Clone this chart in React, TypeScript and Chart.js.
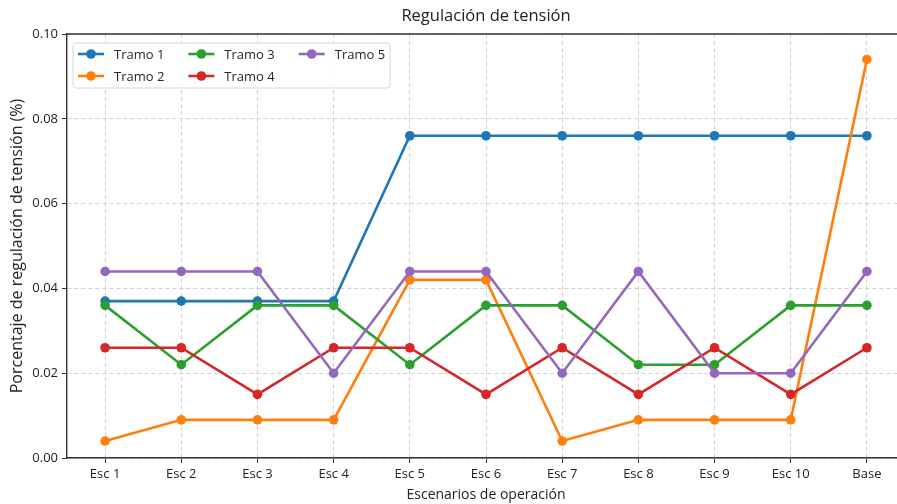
import { useEffect, useRef } from "react";
import { Chart, registerables, Plugin } from "chart.js";

Chart.register(...registerables);

const FONT = '"Open Sans", sans-serif';

const escenarios = ["Esc 1", "Esc 2", "Esc 3", "Esc 4", "Esc 5", "Esc 6", "Esc 7", "Esc 8", "Esc 9", "Esc 10", "Base"];

const tramo1 = [0.037, 0.037, 0.037, 0.037, 0.076, 0.076, 0.076, 0.076, 0.076, 0.076, 0.076];
const tramo2 = [0.004, 0.009, 0.009, 0.009, 0.042, 0.042, 0.004, 0.009, 0.009, 0.009, 0.094];
const tramo3 = [0.036, 0.022, 0.036, 0.036, 0.022, 0.036, 0.036, 0.022, 0.022, 0.036, 0.036];
const tramo4 = [0.026, 0.026, 0.015, 0.026, 0.026, 0.015, 0.026, 0.015, 0.026, 0.015, 0.026];
const tramo5 = [0.044, 0.044, 0.044, 0.02, 0.044, 0.044, 0.02, 0.044, 0.02, 0.02, 0.044];

const nombres = ["Tramo 1", "Tramo 2", "Tramo 3", "Tramo 4", "Tramo 5"];
const colores = ["#1f77b4", "#ff7f0e", "#2ca02c", "#d62728", "#9467bd"];

// matplotlib-style legend (3 columns, filled column by column) inside the plot
const legendPlugin: Plugin<"line"> = {
  id: "mplLegend",
  afterDatasetsDraw(chart) {
    const { ctx, chartArea } = chart;
    const items = chart.data.datasets.map((ds) => ({
      label: String(ds.label),
      color: String(ds.borderColor),
    }));
    const nCol = 3;
    const nRow = Math.ceil(items.length / nCol);
    const handle = 26;
    const textPad = 10;
    const colSpace = 24;
    const rowH = 22;
    const inner = 5;

    ctx.save();
    ctx.font = `13px ${FONT}`;
    const colWidths: number[] = [];
    for (let c = 0; c < nCol; c++) {
      let w = 0;
      for (let r = 0; r < nRow; r++) {
        const it = items[c * nRow + r];
        if (it) w = Math.max(w, ctx.measureText(it.label).width);
      }
      colWidths.push(w);
    }
    const boxX = chartArea.left + 6;
    const boxY = chartArea.top + 9;
    const boxW = colWidths.reduce((s, w) => s + handle + textPad + w, 0) + colSpace * (nCol - 1) + inner * 2;
    const boxH = 45;

    ctx.beginPath();
    ctx.roundRect(boxX, boxY, boxW, boxH, 3);
    ctx.fillStyle = "rgba(255,255,255,0.8)";
    ctx.fill();
    ctx.strokeStyle = "#d6d6d6";
    ctx.lineWidth = 1;
    ctx.stroke();

    let x = boxX + inner;
    for (let c = 0; c < nCol; c++) {
      for (let r = 0; r < nRow; r++) {
        const it = items[c * nRow + r];
        if (!it) continue;
        const y = boxY + 11 + r * rowH;
        ctx.strokeStyle = it.color;
        ctx.lineWidth = 2.6;
        ctx.beginPath();
        ctx.moveTo(x, y);
        ctx.lineTo(x + handle, y);
        ctx.stroke();
        ctx.fillStyle = it.color;
        ctx.beginPath();
        ctx.arc(x + handle / 2, y, 4.8, 0, Math.PI * 2);
        ctx.fill();
        ctx.fillStyle = "#262626";
        ctx.textBaseline = "middle";
        ctx.textAlign = "left";
        ctx.fillText(it.label, x + handle + textPad, y + 1);
      }
      x += handle + textPad + colWidths[c] + colSpace;
    }
    ctx.restore();
  },
};

// top and right spines
const framePlugin: Plugin<"line"> = {
  id: "frame",
  afterDraw(chart) {
    const { ctx, chartArea } = chart;
    ctx.save();
    ctx.strokeStyle = "#333";
    ctx.lineWidth = 1.4;
    ctx.beginPath();
    ctx.moveTo(chartArea.left, chartArea.top);
    ctx.lineTo(chartArea.right, chartArea.top);
    ctx.lineTo(chartArea.right, chartArea.bottom);
    ctx.stroke();
    ctx.restore();
  },
};

export default function App() {
  const canvasRef = useRef<HTMLCanvasElement>(null);

  useEffect(() => {
    if (!canvasRef.current) return;
    const series = [tramo1, tramo2, tramo3, tramo4, tramo5];
    const chart = new Chart(canvasRef.current, {
      type: "line",
      data: {
        labels: escenarios,
        datasets: series.map((data, i) => ({
          label: nombres[i],
          data,
          borderColor: colores[i],
          backgroundColor: colores[i],
          borderWidth: 2.6,
          pointRadius: 4.8,
          pointHoverRadius: 4.8,
          pointBorderWidth: 0,
          tension: 0,
          order: series.length - i,
        })),
      },
      options: {
        responsive: false,
        animation: false,
        layout: { padding: { left: 0, right: 15, top: 0, bottom: 0 } },
        plugins: {
          legend: { display: false },
          tooltip: { enabled: false },
          title: {
            display: true,
            text: "Regulación de tensión",
            fullSize: false,
            color: "#222",
            font: { family: FONT, size: 16.5, weight: "normal" },
            padding: { top: 6, bottom: 8.2 },
          },
        },
        scales: {
          x: {
            type: "category",
            offset: true,
            grid: {
              offset: false,
              color: "#d0d0d0",
              lineWidth: 1,
              tickLength: 5,
              tickColor: "#333",
              tickWidth: 1,
            },
            border: { color: "#333", width: 1.4, dash: [4, 3] },
            ticks: {
              color: "#222",
              padding: 3,
              maxRotation: 0,
              autoSkip: false,
              font: { family: FONT, size: 13 },
            },
            title: {
              display: true,
              text: "Escenarios de operación",
              color: "#222",
              font: { family: FONT, size: 14 },
              padding: { top: 0, bottom: 1 },
            },
            afterFit(scale) {
              scale.height = 46;
            },
          },
          y: {
            min: 0,
            max: 0.1,
            grid: {
              color: "#d0d0d0",
              lineWidth: 1,
              tickLength: 5,
              tickColor: "#333",
              tickWidth: 1,
            },
            border: { color: "#333", width: 1.4, dash: [4, 3] },
            ticks: {
              stepSize: 0.02,
              color: "#222",
              padding: 4,
              font: { family: FONT, size: 13 },
              callback: (v) => Number(v).toFixed(2),
            },
            title: {
              display: true,
              text: "Porcentaje de regulación de tensión (%)",
              color: "#222",
              font: { family: FONT, size: 16 },
              padding: { top: 8, bottom: 0 },
            },
            afterFit(scale) {
              scale.width = 67;
            },
          },
        },
      },
      plugins: [legendPlugin, framePlugin],
    });
    return () => chart.destroy();
  }, []);

  return (
    <div
      style={{
        position: "fixed",
        left: 0,
        top: 0,
        width: 897,
        height: 504,
        overflow: "hidden",
        background: "#fff",
      }}
    >
      <canvas ref={canvasRef} width={920} height={504} style={{ display: "block" }} />
    </div>
  );
}
